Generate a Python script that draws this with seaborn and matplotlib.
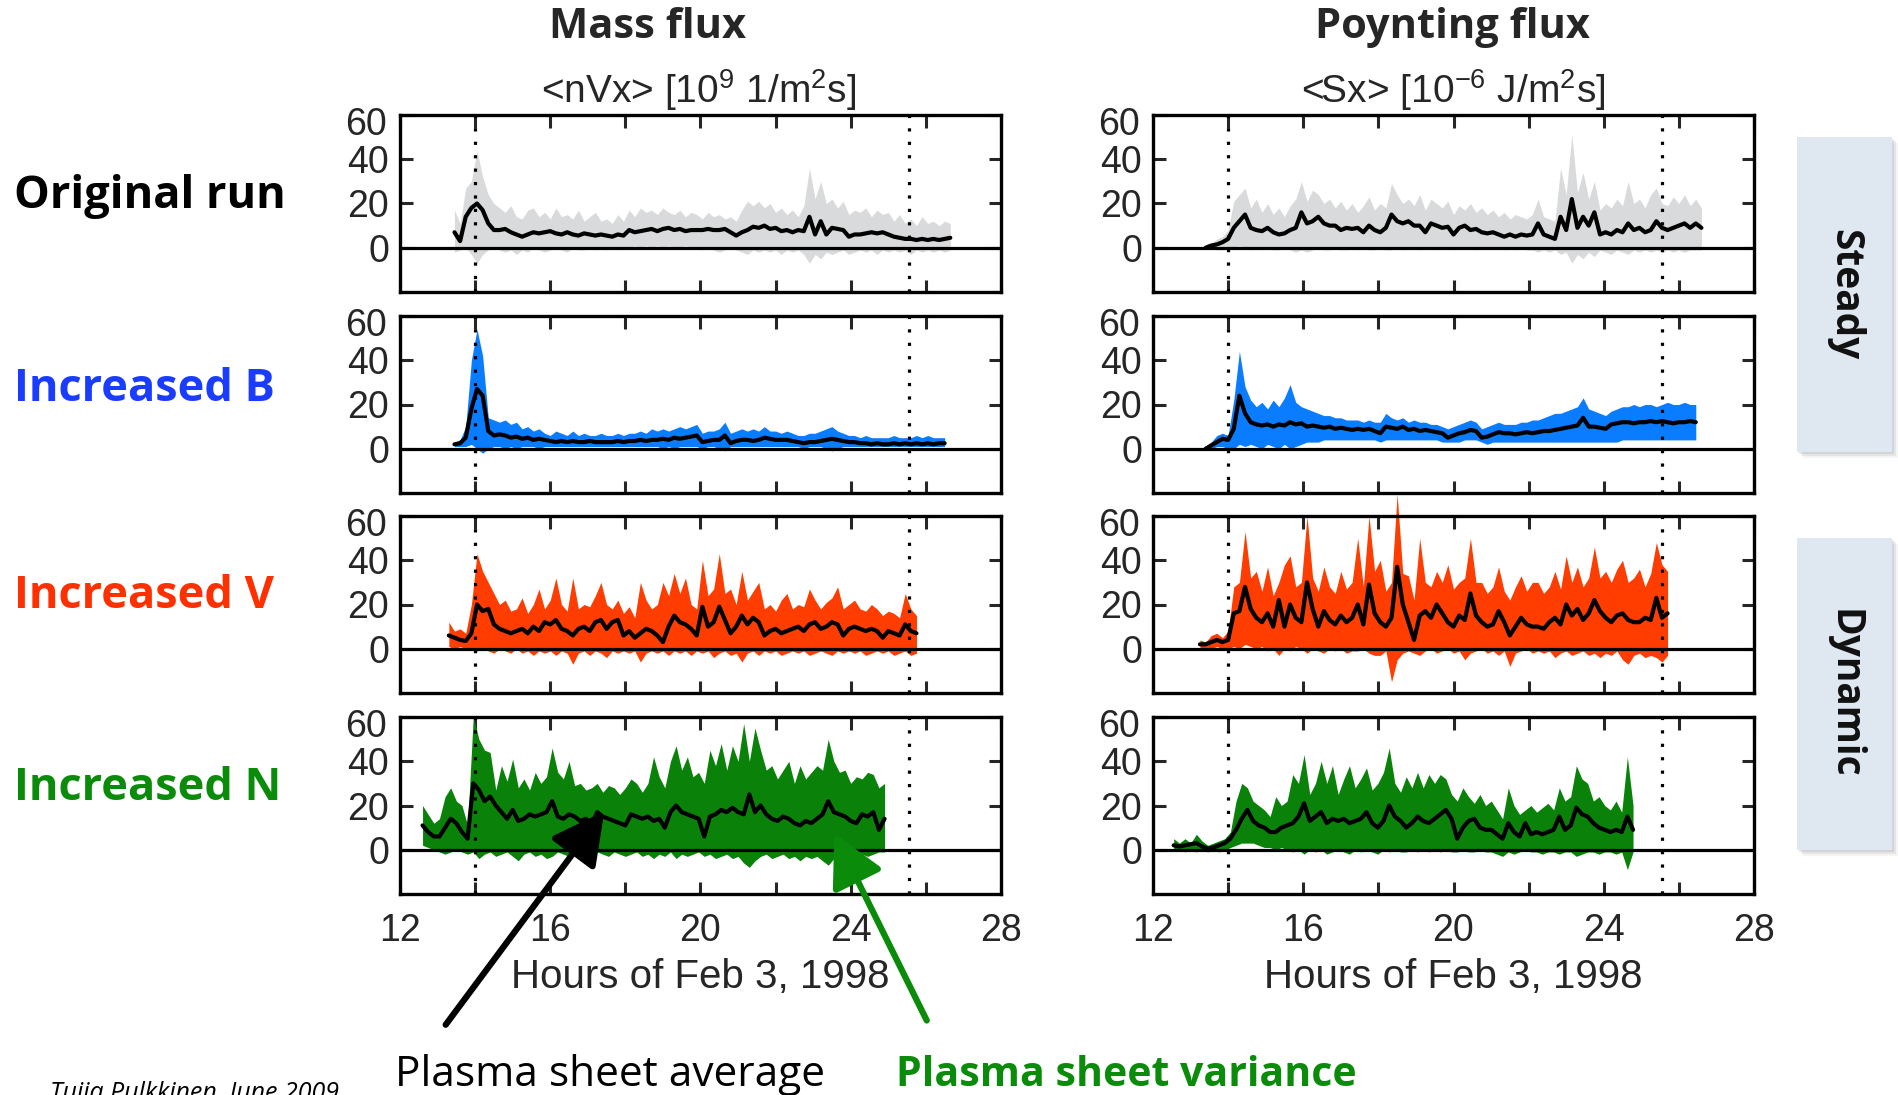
import numpy as np
import pandas as pd
import matplotlib
matplotlib.use("Agg")
import matplotlib.pyplot as plt
import seaborn as sns
from matplotlib.patches import Rectangle, FancyArrowPatch
from matplotlib import transforms

# ---------------------------------------------------------------------------
# Plasma sheet averages (mean) and variance envelopes (hi / lo), sampled every
# ~0.15 h.  Left column: mass flux <nVx> [1e9 1/m^2 s]; right column: Poynting
# flux <Sx> [1e-6 J/m^2 s].  Spans are (first hour, last hour) of each run.
# ---------------------------------------------------------------------------

# Original run
mass_orig_span = (13.45, 26.65)
mass_orig_mean = [7, 3, 14, 18, 20, 17, 11, 8, 8, 8.5,
                  7, 6, 5, 6, 7, 6.5, 7, 7.5, 6.5, 6,
                  7, 6, 5.5, 6.5, 6, 5.5, 6, 5.5, 5, 6,
                  5.5, 8, 7, 7.5, 8, 8.5, 7.5, 8.5, 9, 8,
                  8.5, 7.5, 8, 8, 8, 8.5, 8, 8, 8.5, 7,
                  5.5, 7, 8, 9.5, 9, 10, 8.5, 9, 7.5, 8,
                  7, 8, 7.5, 14, 6, 12, 6, 9, 8.5, 8,
                  5, 6, 6, 6.5, 7, 6.5, 7, 6, 5, 4.5,
                  4, 4, 3.5, 4, 3.5, 4, 3.5, 4, 4.5]
mass_orig_hi = [17, 11, 27, 30, 44, 32, 24, 20, 18, 16,
                19, 14, 13, 17, 18, 14, 16, 13, 18, 14,
                15, 13, 17, 12, 14, 16, 12, 13, 11, 15,
                12, 17, 14, 18, 16, 17, 15, 18, 16, 15,
                17, 14, 16, 15, 13, 16, 14, 15, 13, 14,
                12, 17, 21, 19, 21, 18, 20, 16, 18, 15,
                17, 14, 19, 36, 22, 30, 20, 22, 18, 21,
                15, 17, 16, 18, 14, 17, 15, 16, 12, 15,
                11, 13, 10, 14, 11, 12, 10, 12, 11]
mass_orig_lo = [-2, -1, 0, -3, -7, -3, -1, 0, -1, -2,
                -1, -3, -1, -2, 0, -1, -2, -1, 0, -1,
                -2, 0, -1, -1, 0, -1, 0, -1, 0, -1,
                0, 0, 1, 0, 1, 0, 1, 0, 1, 0,
                0, 1, 0, 0, -1, 0, -1, -2, -1, 0,
                -1, -2, -3, -1, -2, -1, -2, -1, -3, -1,
                -2, -1, -3, -7, -3, -5, -2, -3, -2, -1,
                -3, -2, -1, -2, -1, -3, -1, -2, -1, -2,
                -1, -3, -1, -2, -1, -2, -1, -2, -1]

poy_orig_span = (13.4, 26.6)
poy_orig_mean = [0, 1, 1.5, 2.5, 4, 9, 12, 15, 9, 8,
                 7.5, 9, 7, 6, 6.5, 8, 9, 16, 11, 12,
                 14, 11, 10, 10, 8, 9, 8.5, 9, 7, 10,
                 8, 7, 9, 15, 12, 11, 12, 10, 10, 7,
                 11, 10, 9, 9.5, 6, 9, 10, 8, 8.5, 7,
                 6.5, 7, 6, 5, 6, 5, 6, 5.5, 6, 11,
                 6, 5, 4, 14, 8, 22, 9, 14, 10, 16,
                 6, 7, 6, 8, 7, 11, 8, 9, 7, 8,
                 12, 9, 8, 9, 10, 11, 9, 11, 9]
poy_orig_hi = [1, 2, 4, 5, 8, 21, 24, 27, 18, 22,
               16, 20, 15, 18, 14, 19, 22, 30, 21, 26,
               24, 20, 22, 18, 21, 17, 20, 16, 19, 23,
               17, 20, 18, 29, 24, 20, 22, 19, 24, 17,
               22, 20, 18, 21, 15, 19, 17, 20, 16, 18,
               15, 17, 14, 16, 13, 15, 14, 13, 15, 22,
               14, 13, 12, 36, 24, 51, 25, 34, 22, 30,
               17, 20, 18, 22, 19, 30, 20, 22, 18, 24,
               27, 20, 19, 23, 20, 24, 19, 22, 18]
poy_orig_lo = [0, 0, -1, -1, 0, 0, 1, 0, -1, 0,
               -1, 0, -1, -1, 0, -1, -2, -1, -2, -1,
               0, -1, -1, 0, -1, -1, 0, -1, 0, -1,
               -1, 0, -1, -1, 0, -1, 0, 0, -1, 0,
               0, -1, 0, 0, -1, 0, 0, 0, -1, 0,
               0, 0, 0, -1, 0, -1, 0, -1, -1, -2,
               -1, -2, -1, -3, -2, -7, -3, -5, -2, -4,
               -1, -2, -3, -1, -2, -3, -1, -2, -1, -2,
               -1, -2, -1, -2, -1, -2, -1, -1, -1]

# Increased B
mass_b_span = (13.45, 26.5)
mass_b_mean = [2, 2.5, 5, 18, 27, 24, 8, 6, 6.5, 6,
               5, 5.5, 4.5, 5, 4, 4.5, 4, 3.5, 3, 3.5,
               3, 3.5, 3, 3, 3.5, 3, 3, 3, 3, 3.5,
               3, 3.5, 3.5, 4, 3.5, 4, 4, 4.5, 4, 5,
               4.5, 5, 5.5, 6, 3, 3.5, 4, 4, 6, 2.5,
               3.5, 4, 4, 3.5, 4, 5, 4.5, 4, 4, 4,
               3.5, 3, 2.5, 3, 3, 3.5, 4, 4.5, 4, 3.5,
               3, 3, 2.5, 2.5, 2, 2.5, 2, 2, 2.5, 2,
               2.5, 2, 2.5, 2, 2.5, 2, 2.5, 2.5]
mass_b_hi = [3, 4, 10, 40, 54, 42, 14, 13, 12, 13,
             11, 12, 9, 10, 8, 9, 7, 6, 8, 7,
             6, 8, 6, 7, 6, 6, 7, 6, 6, 7,
             6, 7, 7, 8, 7, 9, 8, 9, 8, 9,
             10, 9, 10, 11, 7, 8, 8, 9, 12, 7,
             8, 9, 8, 9, 8, 10, 8, 8, 7, 8,
             7, 6, 6, 7, 7, 8, 9, 10, 8, 7,
             6, 6, 5, 6, 5, 5, 5, 5, 6, 5,
             5, 5, 6, 5, 6, 5, 5, 5]
mass_b_lo = [1, 1, 1, 2, 0, -2, 0, 1, 1, 0,
             1, 0, 1, 1, 1, 0, 1, 1, 1, 1,
             1, 1, 1, 1, 1, 1, 1, 1, 1, 1,
             1, 1, 1, 1, 1, 1, 1, 0, 1, 0,
             1, 1, 1, 1, 0, 1, 1, 0, -1, 1,
             1, 1, 1, 1, 1, 1, 1, 1, 1, 1,
             1, 1, 0, 1, 1, 1, 0, -1, 0, 1,
             1, 1, 1, 1, 1, 1, 1, 1, 1, 1,
             1, 1, 1, 1, 1, 1, 1, 1]

poy_b_span = (13.4, 26.45)
poy_b_mean = [0, 1.5, 3, 4.5, 4, 9, 24, 16, 12, 11,
              10.5, 11, 10, 11, 10.5, 12, 11, 11.5, 10, 10.5,
              10, 9.5, 10, 9, 9.5, 9, 8.5, 9, 8.5, 9,
              8, 7, 10, 9.5, 9, 10, 8.5, 9, 8, 8.5,
              8, 7.5, 7, 5, 6, 7, 7.5, 8.5, 8, 5,
              5.5, 6.5, 7.5, 7, 7, 6.5, 7, 7.5, 7, 7.5,
              8, 8, 8.5, 9, 9.5, 10, 10.5, 14, 10, 10,
              9.5, 9, 11, 11.5, 12, 12, 11.5, 12, 12, 12.5,
              12, 12.5, 12, 11.5, 12, 12, 12.5, 12]
poy_b_hi = [1, 3, 6, 7, 6, 22, 44, 28, 22, 19,
            21, 18, 22, 19, 23, 29, 21, 19, 18, 17,
            16, 15, 15, 14, 14, 13, 13, 13, 12, 13,
            12, 12, 16, 14, 13, 14, 12, 13, 12, 12,
            11, 11, 10, 9, 10, 11, 12, 13, 12, 9,
            10, 11, 12, 11, 11, 11, 12, 12, 13, 13,
            14, 15, 16, 16, 17, 18, 19, 23, 18, 17,
            16, 15, 17, 18, 19, 19, 20, 19, 20, 20,
            19, 20, 21, 20, 20, 21, 20, 20]
poy_b_lo = [0, 0, 1, 1, 0, 0, 2, 1, 2, 1,
            0, 2, 1, 0, 2, 0, 1, 2, 3, 3,
            3, 4, 4, 4, 4, 4, 4, 4, 4, 4,
            4, 3, 4, 4, 4, 4, 4, 4, 4, 4,
            4, 4, 3, 3, 3, 3, 4, 4, 4, 3,
            2, 3, 3, 3, 3, 3, 3, 3, 3, 3,
            3, 3, 3, 3, 3, 3, 3, 3, 3, 3,
            3, 3, 3, 3, 4, 4, 4, 4, 4, 4,
            4, 4, 4, 4, 4, 4, 4, 4]

# Increased V
mass_v_span = (13.3, 25.75)
mass_v_mean = [6, 5, 4, 3.5, 7, 20, 17, 18, 11, 9,
               8, 7, 8, 9, 7, 10, 8, 12, 11, 13,
               9, 8, 6, 9, 10, 8, 12, 13, 9, 12,
               13, 6, 8, 5, 7, 9, 8, 6, 3, 10,
               15, 12, 11, 9, 6, 19, 10, 12, 19, 13,
               7, 10, 15, 11, 14, 12, 6, 8, 9, 7,
               8, 9, 10, 8, 11, 12, 9, 10, 12, 11,
               6, 9, 10, 9, 8, 9, 8, 5, 8, 7,
               6, 11, 8, 7]
mass_v_hi = [12, 8, 9, 7, 20, 43, 35, 30, 25, 20,
             22, 17, 18, 23, 16, 20, 27, 18, 22, 32,
             20, 17, 32, 18, 20, 19, 24, 30, 20, 18,
             22, 16, 19, 14, 30, 22, 18, 20, 30, 24,
             34, 25, 32, 20, 18, 40, 24, 27, 43, 25,
             27, 20, 35, 22, 26, 30, 18, 20, 17, 22,
             25, 18, 20, 19, 27, 22, 18, 21, 23, 28,
             18, 20, 22, 18, 17, 20, 18, 15, 17, 16,
             14, 25, 18, 15]
mass_v_lo = [1, 0, 1, 0, 0, -1, 0, -1, -2, 0,
             -1, -2, 0, -2, -1, -3, -1, -2, -1, -3,
             -1, -2, -7, -2, -1, -3, -1, -2, -4, -1,
             -2, -1, -2, -1, -6, -2, -1, -2, -1, -3,
             -1, -2, -1, -3, -1, -2, -1, -4, -2, -1,
             -3, -2, -6, -2, -1, -3, -1, -2, -1, -3,
             -2, -1, -2, -1, -3, -2, -1, -2, -3, -1,
             -2, -1, -2, -1, -3, -2, -1, -2, -1, -3,
             -2, -1, -3, -2]

poy_v_span = (13.25, 25.7)
poy_v_mean = [2, 2, 3, 4, 3, 4, 16, 17, 28, 18,
              14, 12, 16, 10, 22, 10, 20, 14, 12, 30,
              18, 10, 17, 13, 11, 15, 12, 14, 20, 11,
              29, 16, 12, 10, 14, 37, 20, 12, 4, 15,
              17, 14, 20, 16, 12, 10, 15, 13, 25, 15,
              12, 10, 11, 17, 12, 6, 10, 14, 11, 10,
              10, 9, 12, 14, 11, 20, 15, 18, 13, 16,
              22, 17, 14, 12, 15, 16, 13, 12, 12, 14,
              13, 23, 14, 16]
poy_v_hi = [4, 3, 6, 7, 5, 8, 28, 30, 53, 32,
            35, 26, 37, 24, 30, 38, 42, 28, 30, 60,
            32, 26, 37, 28, 25, 35, 27, 30, 50, 28,
            60, 35, 40, 26, 30, 70, 34, 33, 22, 50,
            30, 28, 35, 30, 38, 27, 30, 32, 50, 30,
            30, 25, 28, 37, 26, 22, 28, 33, 26, 30,
            30, 25, 28, 35, 27, 42, 30, 37, 28, 32,
            46, 32, 35, 30, 36, 40, 30, 32, 36, 28,
            34, 48, 38, 35]
poy_v_lo = [0, 0, 0, 1, 0, 0, 1, 0, 2, 1,
            0, 1, -1, 0, -3, 0, -1, 1, 0, -2,
            0, -1, -2, 0, -1, 0, -2, -1, -1, 0,
            -2, -3, -3, -1, -15, -5, -2, -1, -2, -3,
            -1, 0, -2, -1, 0, -2, -1, -5, -2, -1,
            0, -2, -1, -3, -1, -8, -2, -1, 0, -2,
            -1, -2, -1, -4, -2, -1, -3, -2, -1, -3,
            -2, -4, -2, -3, -1, -5, -7, -3, -2, -4,
            -3, -4, -6, -3]

# Increased N
mass_n_span = (12.6, 24.9)
mass_n_mean = [11, 8, 6, 6, 10, 14, 12, 8, 5, 30,
               27, 22, 24, 20, 17, 14, 18, 13, 14, 16,
               15, 16, 17, 22, 15, 14, 16, 15, 13, 14,
               11, 17, 15, 14, 13, 12, 11, 16, 15, 14,
               15, 13, 14, 10, 17, 20, 17, 16, 15, 14,
               6, 15, 16, 18, 17, 19, 17, 16, 25, 17,
               20, 16, 14, 13, 15, 14, 12, 11, 13, 12,
               14, 16, 22, 17, 16, 15, 13, 12, 16, 15,
               17, 9, 14]
mass_n_hi = [20, 16, 12, 14, 24, 28, 22, 20, 11, 60,
             50, 45, 44, 27, 38, 31, 41, 28, 32, 27,
             35, 30, 33, 46, 35, 32, 40, 29, 30, 27,
             28, 30, 26, 29, 28, 25, 28, 32, 30, 26,
             30, 42, 33, 28, 40, 47, 36, 42, 33, 35,
             30, 45, 38, 48, 36, 47, 40, 57, 40, 55,
             45, 36, 38, 32, 36, 40, 30, 38, 32, 35,
             38, 36, 50, 40, 35, 36, 30, 33, 32, 35,
             34, 28, 30]
mass_n_lo = [2, 1, 0, -1, -2, -1, 0, -1, -2, -1,
             -4, -2, -1, -3, -2, -1, -3, -5, -2, -1,
             -3, -2, -4, -3, -1, -2, -3, -1, -2, -3,
             -2, -1, -2, -3, -1, -2, -3, -2, -1, -3,
             -2, -4, -2, -3, -1, -4, -2, -3, -2, -1,
             -3, -2, -4, -3, -2, -4, -3, -6, -8, -5,
             -3, -2, -4, -3, -2, -4, -3, -5, -3, -4,
             -3, -5, -7, -4, -3, -2, -4, -3, -2, -3,
             -2, -1, -1]

poy_n_span = (12.55, 24.78)
poy_n_mean = [2, 1.5, 2, 2.5, 3, 1.5, 0.5, 1, 2, 3,
              5, 9, 14, 18, 13, 11, 10, 8, 8, 10,
              11, 12, 15, 21, 13, 15, 17, 12, 14, 13,
              14, 12, 13, 14, 17, 12, 10, 13, 20, 15,
              13, 10, 12, 15, 13, 12, 14, 16, 18, 14,
              5, 10, 13, 14, 10, 9, 9, 7, 5, 12,
              8, 6, 12, 7, 8, 7, 8, 9, 15, 9,
              11, 19, 16, 15, 12, 10, 9, 8, 9, 8,
              15, 9]
poy_n_hi = [5, 3, 5, 3, 7, 4, 2, 3, 4, 5,
            8, 22, 30, 28, 22, 20, 18, 15, 24, 20,
            22, 34, 30, 43, 25, 30, 40, 30, 38, 25,
            32, 38, 28, 32, 37, 27, 30, 35, 46, 30,
            26, 33, 28, 35, 28, 34, 30, 34, 32, 25,
            22, 28, 24, 21, 25, 20, 22, 18, 14, 28,
            20, 16, 18, 20, 17, 19, 21, 18, 28, 22,
            24, 38, 32, 30, 22, 24, 20, 18, 22, 17,
            42, 20]
poy_n_lo = [0, 0, -1, 0, -1, 0, -1, 0, -1, 0,
            1, 2, 3, 3, 3, 2, 1, 1, 0, 1,
            0, -1, 0, -2, 0, -1, 0, -2, -1, 0,
            -1, -2, 0, -1, 0, -1, -2, 0, -1, 0,
            -1, -1, 0, -1, 0, -1, 0, -1, 0, -1,
            -1, 0, -1, -1, 0, -1, -1, -2, -3, -1,
            -2, -1, 0, -1, -1, -2, -1, -1, -2, -1,
            -1, -3, -2, -1, -1, -2, -1, -1, -2, -1,
            -9, -1]

# Axis ticks, reference markers and labels
x_major = [12, 16, 20, 24, 28]
x_minor = [14, 18, 22, 26]
y_ticks = [0, 20, 40, 60]
marker_hours = [14.0, 25.55]
row_names = ["Original run", "Increased B", "Increased V", "Increased N"]
row_colors = ["#000000", "#1a3cff", "#ff3000", "#0a8c0a"]
band_colors = ["#d9dadb", "#0a7cff", "#ff3d00", "#0a820a"]
column_titles = ["Mass flux", "Poynting flux"]
column_units = [r"<nVx> [10$^{9}$ 1/m$^{2}$s]", r"<Sx> [10$^{-6}$ J/m$^{2}$s]"]
x_label = "Hours of Feb 3, 1998"

# ---------------------------------------------------------------------------
sns.set_style("white")
plt.rcParams["font.family"] = ["Liberation Sans", "DejaVu Sans"]
plt.rcParams["mathtext.fontset"] = "custom"
plt.rcParams["mathtext.rm"] = "Liberation Sans"
plt.rcParams["mathtext.it"] = "Liberation Sans:italic"
plt.rcParams["mathtext.bf"] = "Liberation Sans:bold"

W, H = 1899, 1095
fig = plt.figure(figsize=(W / 100, H / 100), dpi=100)
fig.patch.set_facecolor("white")


def fx(x):
    return x / W


def fy(y):
    return 1 - y / H


def add_px_axes(left, top, width, height):
    return fig.add_axes([fx(left), fy(top + height), width / W, height / H])


col_left = [400, 1153]
col_width = 601
row_top = [115, 316, 516, 717]
row_height = 177

panels = [
    [(mass_orig_span, mass_orig_mean, mass_orig_hi, mass_orig_lo),
     (poy_orig_span, poy_orig_mean, poy_orig_hi, poy_orig_lo)],
    [(mass_b_span, mass_b_mean, mass_b_hi, mass_b_lo),
     (poy_b_span, poy_b_mean, poy_b_hi, poy_b_lo)],
    [(mass_v_span, mass_v_mean, mass_v_hi, mass_v_lo),
     (poy_v_span, poy_v_mean, poy_v_hi, poy_v_lo)],
    [(mass_n_span, mass_n_mean, mass_n_hi, mass_n_lo),
     (poy_n_span, poy_n_mean, poy_n_hi, poy_n_lo)],
]

tick_font = dict(family=["Liberation Sans", "DejaVu Sans"], size=27)

for r in range(4):
    for c in range(2):
        span, mean, hi, lo = panels[r][c]
        hours = np.linspace(span[0], span[1], len(mean))
        frame = pd.DataFrame({"hour": hours, "mean": mean, "hi": hi, "lo": lo})

        ax = add_px_axes(col_left[c], row_top[r], col_width, row_height)
        ax.fill_between(frame["hour"], frame["lo"], frame["hi"],
                        color=band_colors[r], lw=0, zorder=1, clip_on=False)
        for h in marker_hours:
            ax.axvline(h, color="black", ls=(0, (1, 3.2)), lw=2.3, zorder=2)
        ax.axhline(0, color="black", lw=2.3, zorder=3)
        sns.lineplot(data=frame, x="hour", y="mean", ax=ax, color="black",
                     lw=3.0, zorder=4)

        ax.set_xlim(12, 28)
        ax.set_ylim(-20, 60)
        ax.set_xticks(x_major)
        ax.set_xticks(x_minor, minor=True)
        ax.set_yticks(y_ticks)
        ax.set_yticklabels(["0", "20", "40", ""], fontdict=tick_font)
        ax.text(-13 / col_width, 55.6, "60", ha="right", va="center",
                transform=transforms.blended_transform_factory(ax.transAxes, ax.transData),
                fontfamily=tick_font["family"], fontsize=tick_font["size"])
        ax.tick_params(which="both", direction="in", length=9, width=2.2,
                       top=True, right=True, bottom=True, left=True)
        ax.tick_params(axis="y", pad=8)
        ax.tick_params(axis="x", pad=14)
        ax.set_ylabel("")
        if r == 3:
            ax.set_xticklabels([str(v) for v in x_major], fontdict=tick_font)
            ax.set_xlabel(x_label, fontsize=29, labelpad=6,
                          fontfamily=["Liberation Sans", "DejaVu Sans"])
        else:
            ax.set_xticklabels([])
            ax.set_xlabel("")
        for s in ax.spines.values():
            s.set_linewidth(2.4)
            s.set_color("black")
            s.set_zorder(5)

# Column headers
title_x = [648, 1453]
unit_x = [699, 1453]
for c in range(2):
    fig.text(fx(title_x[c]), fy(27), column_titles[c], ha="center", va="center",
             fontsize=30, fontweight="bold", fontfamily=["Open Sans", "DejaVu Sans"])
    fig.text(fx(unit_x[c]), fy(90), column_units[c], ha="center", va="center",
             fontsize=28, fontfamily=["Liberation Sans", "DejaVu Sans"])

# Row labels
row_baseline = [208, 401, 608, 800]
for r in range(4):
    fig.text(fx(14), fy(row_baseline[r]), row_names[r], ha="left", va="baseline",
             fontsize=32.5, fontweight="bold", color=row_colors[r],
             fontfamily=["Open Sans", "DejaVu Sans"])

# Regime tabs on the right
for (top, bottom, word) in [(137, 452, "Steady"), (538, 850, "Dynamic")]:
    left, right = 1797, 1892
    for k, a in enumerate([0.12, 0.09, 0.06]):
        off = 2 + 2 * k
        fig.add_artist(Rectangle((fx(left + off), fy(bottom + off)),
                                 (right - left) / W, (bottom - top) / H,
                                 transform=fig.transFigure, facecolor="#555555",
                                 edgecolor="none", alpha=a, zorder=1))
    fig.add_artist(Rectangle((fx(left), fy(bottom)), (right - left) / W,
                             (bottom - top) / H, transform=fig.transFigure,
                             facecolor="#dfe7f1", edgecolor="none", zorder=2))
    fig.text(fx((left + right) / 2), fy((top + bottom) / 2), word, rotation=-90,
             ha="center", va="center", fontsize=28, fontweight="bold",
             color="#111111", fontfamily=["Open Sans", "DejaVu Sans"], zorder=3)

# Pointers to the average curve and the variance band
fig.add_artist(FancyArrowPatch(
    (fx(444), fy(1027)), (fx(606), fy(809)), transform=fig.transFigure,
    arrowstyle="-|>,head_length=0.8,head_width=0.42", mutation_scale=40,
    lw=4.5, color="black", zorder=10))
fig.add_artist(FancyArrowPatch(
    (fx(928), fy(1023)), (fx(833), fy(831)), transform=fig.transFigure,
    arrowstyle="-|>,head_length=0.8,head_width=0.42", mutation_scale=40,
    lw=4.5, color="#0a8c0a", zorder=10))

fig.text(fx(395), fy(1086), "Plasma sheet average", ha="left", va="baseline",
         fontsize=30.5, color="black", fontfamily=["Open Sans", "DejaVu Sans"])
fig.text(fx(896), fy(1086), "Plasma sheet variance", ha="left", va="baseline",
         fontsize=29.5, fontweight="bold", color="#0a8c0a",
         fontfamily=["Open Sans", "DejaVu Sans"])
fig.text(fx(50), fy(1081), "Tuija Pulkkinen, June 2009", ha="left", va="top",
         fontsize=18, style="italic", color="black",
         fontfamily=["Open Sans", "DejaVu Sans"])

fig.savefig("out.png", dpi=100, facecolor="white")
